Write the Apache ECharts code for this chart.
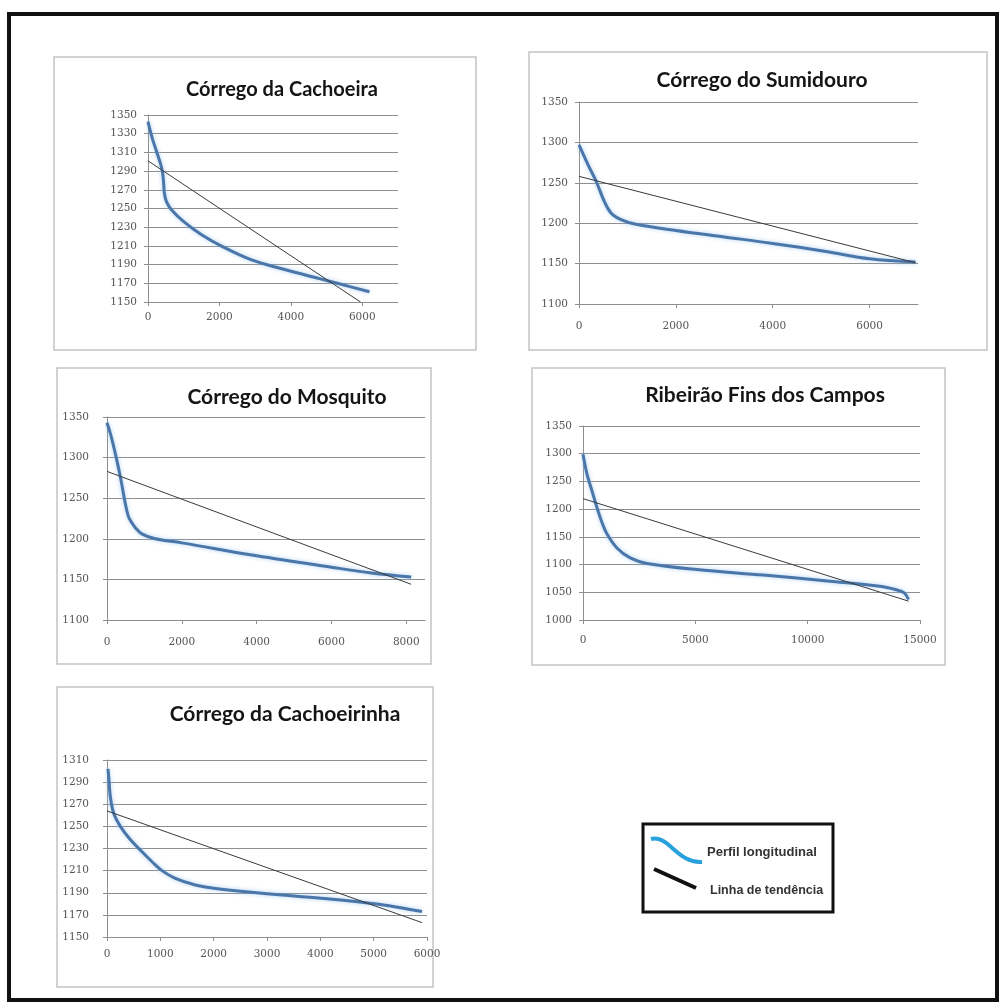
<!DOCTYPE html>
<html><head><meta charset="utf-8">
<script src="https://cdn.jsdelivr.net/npm/echarts@6/dist/echarts.min.js"></script>
<style>html,body{margin:0;padding:0;background:#fff}#c{width:1006px;height:1008px}</style>
</head><body><div id="c"></div>
<script>
// ---------- DATA ----------
const titles = ['Córrego da Cachoeira', 'Córrego do Sumidouro', 'Córrego do Mosquito', 'Ribeirão Fins dos Campos', 'Córrego da Cachoeirinha'];
const legendNames = ['Perfil longitudinal', 'Linha de tendência'];

const cachoeiraDist = [0, 120, 240, 350, 410, 440, 460, 520, 650, 1000, 1500, 2100, 2900, 3800, 4800, 5300, 6200];
const cachoeiraElev = [1343, 1325, 1311, 1298, 1288, 1276, 1266, 1257, 1249, 1236, 1222, 1209, 1195, 1185, 1175, 1170, 1161];
const cachoeiraTrendDist = [0, 5950];
const cachoeiraTrendElev = [1301, 1150];
const cachoeiraXTicks = [0, 2000, 4000, 6000];
const cachoeiraYTicks = [1150, 1170, 1190, 1210, 1230, 1250, 1270, 1290, 1310, 1330, 1350];

const sumidouroDist = [0, 190, 360, 530, 670, 880, 1150, 2000, 3000, 4000, 5100, 6000, 6950];
const sumidouroElev = [1297, 1272, 1251, 1226, 1212, 1204, 1199, 1191, 1183, 1175, 1165, 1156, 1152];
const sumidouroTrendDist = [0, 6950];
const sumidouroTrendElev = [1258, 1151];
const sumidouroXTicks = [0, 2000, 4000, 6000];
const sumidouroYTicks = [1100, 1150, 1200, 1250, 1300, 1350];

const mosquitoDist = [0, 100, 223, 354, 487, 576, 660, 753, 930, 1290, 2000, 4000, 6000, 7070, 8130];
const mosquitoElev = [1343, 1328, 1305, 1277, 1244, 1227, 1220, 1214, 1206, 1200, 1195, 1179, 1165, 1158, 1153];
const mosquitoTrendDist = [0, 8130];
const mosquitoTrendElev = [1283, 1144];
const mosquitoXTicks = [0, 2000, 4000, 6000, 8000];
const mosquitoYTicks = [1100, 1150, 1200, 1250, 1300, 1350];

const finsDist = [0, 178, 400, 620, 845, 1070, 1510, 2100, 2850, 5070, 8030, 11000, 13220, 13900, 14300, 14490];
const finsElev = [1299, 1263, 1233, 1203, 1176, 1155, 1130, 1112, 1102, 1091, 1081, 1070, 1061, 1055, 1049, 1037];
const finsTrendDist = [0, 14490];
const finsTrendElev = [1219, 1034];
const finsXTicks = [0, 5000, 10000, 15000];
const finsYTicks = [1000, 1050, 1100, 1150, 1200, 1250, 1300, 1350];

const cachoeirinhaDist = [19, 40, 62, 124, 250, 420, 656, 844, 1031, 1281, 1656, 2000, 3013, 4013, 5013, 5906];
const cachoeirinhaElev = [1302, 1290, 1277, 1262, 1250, 1239, 1227, 1218, 1210, 1203, 1197, 1194, 1189, 1185, 1180, 1173];
const cachoeirinhaTrendDist = [0, 5906];
const cachoeirinhaTrendElev = [1264, 1163];
const cachoeirinhaXTicks = [0, 1000, 2000, 3000, 4000, 5000, 6000];
const cachoeirinhaYTicks = [1150, 1170, 1190, 1210, 1230, 1250, 1270, 1290, 1310];

// ---------- LAYOUT ----------
const panels = [
  { dist: cachoeiraDist, elev: cachoeiraElev, tDist: cachoeiraTrendDist, tElev: cachoeiraTrendElev, xT: cachoeiraXTicks, yT: cachoeiraYTicks, xMax: 7000,
    grid: { left: 148, top: 115, width: 250, height: 187 }, box: [54, 57, 476, 350], title: [277, 87], tf: 20, xm: 10, ym: 11 },
  { dist: sumidouroDist, elev: sumidouroElev, tDist: sumidouroTrendDist, tElev: sumidouroTrendElev, xT: sumidouroXTicks, yT: sumidouroYTicks, xMax: 7000,
    grid: { left: 579, top: 102, width: 339, height: 202 }, box: [529, 52, 987, 350], title: [757, 78], tf: 21, xm: 17, ym: 11 },
  { dist: mosquitoDist, elev: mosquitoElev, tDist: mosquitoTrendDist, tElev: mosquitoTrendElev, xT: mosquitoXTicks, yT: mosquitoYTicks, xMax: 8500,
    grid: { left: 107, top: 417, width: 318, height: 203 }, box: [57, 368, 431, 664], title: [282, 395], tf: 21, xm: 17, ym: 18 },
  { dist: finsDist, elev: finsElev, tDist: finsTrendDist, tElev: finsTrendElev, xT: finsXTicks, yT: finsYTicks, xMax: 15000,
    grid: { left: 583, top: 426, width: 337, height: 194 }, box: [532, 368, 945, 665], title: [760, 393], tf: 21, xm: 15, ym: 11 },
  { dist: cachoeirinhaDist, elev: cachoeirinhaElev, tDist: cachoeirinhaTrendDist, tElev: cachoeirinhaTrendElev, xT: cachoeirinhaXTicks, yT: cachoeirinhaYTicks, xMax: 6000,
    grid: { left: 107, top: 760, width: 320, height: 177 }, box: [57, 687, 433, 987], title: [280, 712], tf: 21, xm: 12, ym: 18 }
];

const gridColor = '#8f8f8f';
const labelStyle = { fontFamily: 'DejaVu Serif', fontSize: 10.5, color: '#555' };
const zip = (a, b) => a.map((v, i) => [v, b[i]]);

const grids = [], xAxes = [], yAxes = [], series = [], titleCfg = [], graphics = [];

panels.forEach((p, i) => {
  grids.push(Object.assign({ containLabel: false }, p.grid));
  xAxes.push({
    type: 'value', gridIndex: i, min: p.xT[0], max: p.xMax, interval: p.xT[1] - p.xT[0],
    axisLine: { show: true, lineStyle: { color: gridColor, width: 1 } },
    axisTick: { show: true, length: 4, lineStyle: { color: gridColor } },
    splitLine: { show: false },
    axisLabel: Object.assign({ margin: p.xm, showMaxLabel: p.xT.indexOf(p.xMax) >= 0,
      formatter: v => (p.xT.indexOf(v) >= 0 ? String(v) : '') }, labelStyle)
  });
  yAxes.push({
    type: 'value', gridIndex: i, min: p.yT[0], max: p.yT[p.yT.length - 1], interval: p.yT[1] - p.yT[0],
    axisLine: { show: true, lineStyle: { color: gridColor, width: 1 } },
    axisTick: { show: true, length: 4, lineStyle: { color: gridColor } },
    splitLine: { show: true, lineStyle: { color: gridColor, width: 1 } },
    axisLabel: Object.assign({ margin: p.ym, formatter: v => String(v) }, labelStyle)
  });
  series.push({
    name: legendNames[0], type: 'line', xAxisIndex: i, yAxisIndex: i, data: zip(p.dist, p.elev),
    showSymbol: false, smooth: 0.35, z: 3,
    lineStyle: { color: '#4a76aa', width: 3, shadowColor: 'rgba(140,190,235,0.7)', shadowBlur: 4 }
  });
  series.push({
    name: legendNames[1], type: 'line', xAxisIndex: i, yAxisIndex: i, data: zip(p.tDist, p.tElev),
    showSymbol: false, clip: true, z: 4,
    lineStyle: { color: '#3a3a3a', width: 1 }
  });
  titleCfg.push({
    text: titles[i], left: p.title[0], top: p.title[1] - Math.round(p.tf * 0.6), textAlign: 'center',
    textStyle: { fontFamily: 'Lato', fontWeight: 'bold', fontSize: p.tf, color: '#151515' }
  });
  graphics.push({
    type: 'rect', z: 0, silent: true,
    shape: { x: p.box[0], y: p.box[1], width: p.box[2] - p.box[0], height: p.box[3] - p.box[1] },
    style: { fill: null, stroke: '#c4c4c4', lineWidth: 1.5 }
  });
});

// outer frame
graphics.push({ type: 'rect', z: 0, silent: true, shape: { x: 9, y: 14, width: 988, height: 986 },
  style: { fill: null, stroke: '#111', lineWidth: 4 } });

// legend box
graphics.push({ type: 'rect', z: 5, silent: true, shape: { x: 643, y: 824, width: 190, height: 88 },
  style: { fill: '#fff', stroke: '#111', lineWidth: 3 } });
graphics.push({ type: 'bezierCurve', z: 6, silent: true,
  shape: { x1: 651, y1: 839, cpx1: 668, cpy1: 834, cpx2: 678, cpy2: 864, x2: 702, y2: 862 },
  style: { stroke: '#27a0db', lineWidth: 4, fill: null } });
graphics.push({ type: 'line', z: 6, silent: true, shape: { x1: 654, y1: 869, x2: 696, y2: 888 },
  style: { stroke: '#111', lineWidth: 4 } });
graphics.push({ type: 'text', z: 6, silent: true, x: 707, y: 852,
  style: { text: legendNames[0], font: 'bold 13px "Liberation Sans"', fill: '#333', verticalAlign: 'middle' } });
graphics.push({ type: 'text', z: 6, silent: true, x: 710, y: 891,
  style: { text: legendNames[1], font: 'bold 12.5px "Liberation Sans"', fill: '#333', verticalAlign: 'middle' } });

const chart = echarts.init(document.getElementById('c'), null, { renderer: 'canvas' });
chart.setOption({
  animation: false,
  backgroundColor: '#fff',
  title: titleCfg,
  grid: grids,
  xAxis: xAxes,
  yAxis: yAxes,
  series: series,
  graphic: graphics
});
</script></body></html>
